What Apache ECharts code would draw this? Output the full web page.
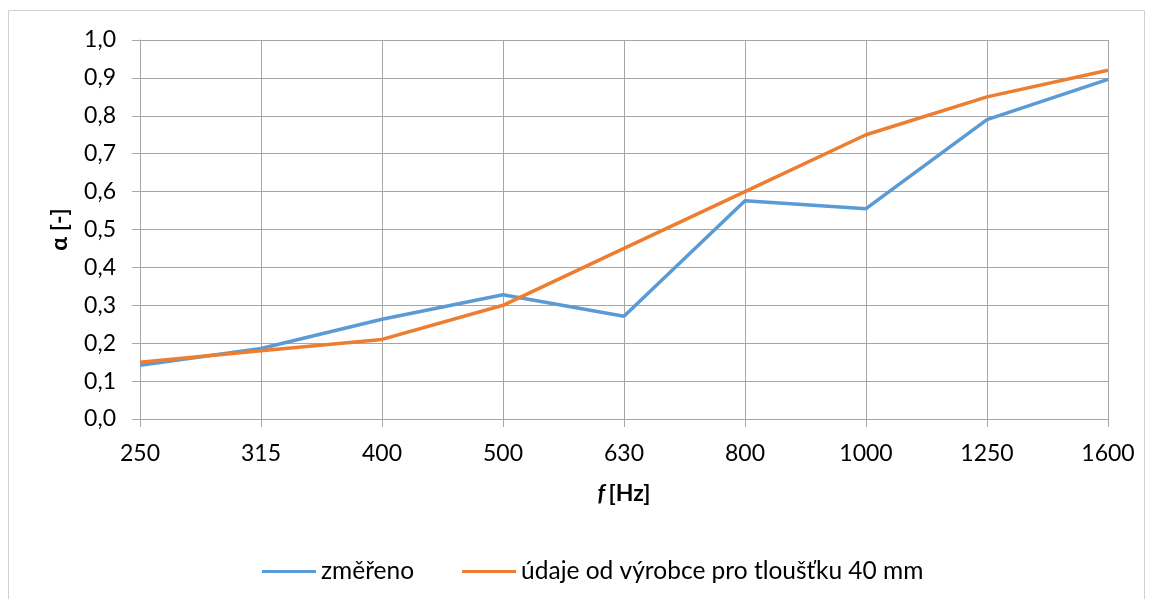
<!DOCTYPE html>
<html><head><meta charset="utf-8">
<script src="https://cdn.jsdelivr.net/npm/echarts@6/dist/echarts.min.js"></script>
<style>html,body{margin:0;padding:0;background:#fff}#c{width:1153px;height:599px}</style>
</head><body><div id="c"></div>
<script>
const categories = ['250','315','400','500','630','800','1000','1250','1600'];
const measured = [0.142, 0.186, 0.263, 0.328, 0.271, 0.576, 0.555, 0.79, 0.896];
const manufacturer = [0.15, 0.18, 0.21, 0.30, 0.45, 0.60, 0.75, 0.85, 0.92];
const seriesNames = ['změřeno', 'údaje od výrobce pro tloušťku 40 mm'];
const yTicks = [0, 0.1, 0.2, 0.3, 0.4, 0.5, 0.6, 0.7, 0.8, 0.9, 1.0];

const font = 'Lato, "Open Sans", sans-serif';
const fs = 23;
const grey = '#a6a6a6';
const chart = echarts.init(document.getElementById('c'));
chart.setOption({
  animation: false,
  backgroundColor: '#fff',
  graphic: [{type: 'rect', shape: {x: 8.5, y: 10.5, width: 1136, height: 620}, style: {fill: 'none', stroke: '#d0d0d0', lineWidth: 1}, silent: true}],
  grid: {left: 140, right: 45, top: 40, bottom: 180},
  legend: {
    top: 554, left: 257, itemWidth: 54, itemHeight: 3, itemGap: 48,
    icon: 'rect',
    textStyle: {fontFamily: font, fontSize: 24.5, color: '#000'},
    data: seriesNames
  },
  xAxis: {
    type: 'category', data: categories, boundaryGap: false,
    axisLine: {lineStyle: {color: grey}},
    axisTick: {show: true, length: 8, lineStyle: {color: grey}, alignWithLabel: true},
    axisLabel: {fontFamily: font, fontSize: fs, color: '#000', margin: 23},
    splitLine: {show: true, lineStyle: {color: grey}},
    name: '{i|f} {b|[Hz]}', nameLocation: 'middle', nameGap: 63,
    nameTextStyle: {rich: {
      i: {fontFamily: font, fontSize: fs, fontWeight: 'bold', fontStyle: 'italic', color: '#000'},
      b: {fontFamily: font, fontSize: fs, fontWeight: 'bold', color: '#000'}
    }}
  },
  yAxis: {
    type: 'value', min: 0, max: 1, interval: 0.1,
    axisLine: {show: true, lineStyle: {color: grey}},
    axisTick: {show: true, length: 8, inside: false, lineStyle: {color: grey}},
    axisLabel: {fontFamily: font, fontSize: fs, color: '#000', margin: 24,
      formatter: v => v.toFixed(1).replace('.', ',')},
    splitLine: {show: true, lineStyle: {color: grey}},
    name: 'α [-]', nameLocation: 'middle', nameGap: 69, nameRotate: 90,
    nameTextStyle: {fontFamily: font, fontSize: fs, fontWeight: 'bold', color: '#000'}
  },
  series: [
    {name: seriesNames[0], type: 'line', data: measured, symbol: 'none',
     lineStyle: {width: 3.5, color: '#5b9bd5'}, itemStyle: {color: '#5b9bd5'}},
    {name: seriesNames[1], type: 'line', data: manufacturer, symbol: 'none',
     lineStyle: {width: 3.5, color: '#ed7d31'}, itemStyle: {color: '#ed7d31'}}
  ]
});
</script></body></html>
